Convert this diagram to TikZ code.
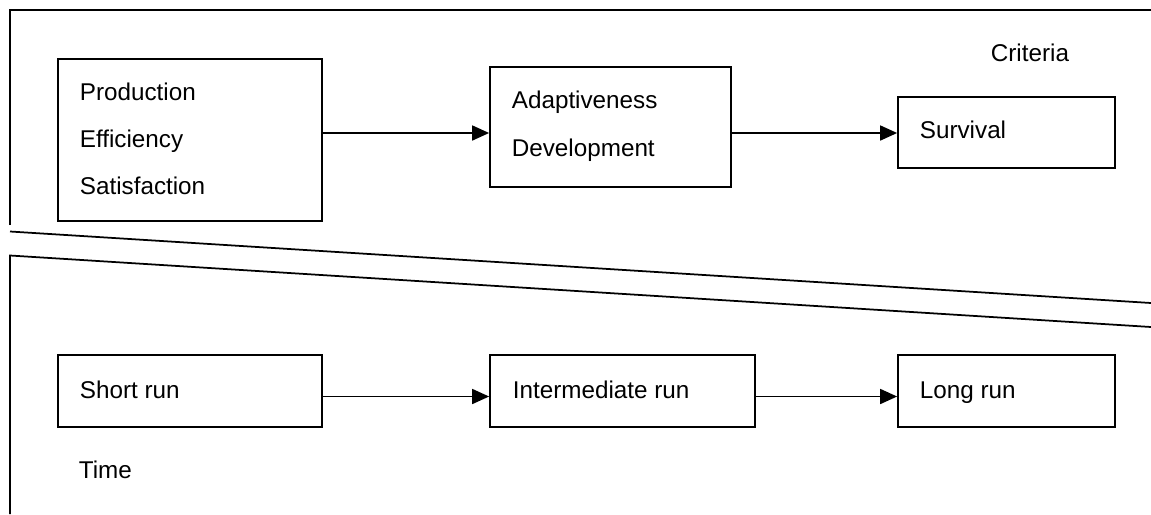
\documentclass[tikz,border=0pt]{standalone}
\usepackage{fontspec}
\setmainfont{Liberation Sans}
\usetikzlibrary{arrows.meta,fit}
\begin{document}
\begin{tikzpicture}[x=0.02cm,y=-0.02cm,
  line width=1pt,
  box/.style={draw,inner sep=0pt,fit={#1}},
  label/.style={anchor=base west,inner sep=0pt,font=\fontsize{13.8}{16}\selectfont},
  arr/.style={-{Triangle[length=0.34cm,width=0.3cm]}}]
\useasboundingbox (0,0) rectangle (1151,514);

% frames of the two bands, separated by two slanted lines
\draw (10,225) -- (10,10) -- (1151,10);
\draw (10,231.5) -- (1151,303);
\draw (1151,327) -- (10,255.5) -- (10,514);

% criteria band
\node[box={(58,59) (322,221)}] (prod) {};
\node[label] (tprod) at (79,100) {Production};
\node[label] (teff) at (79,147.5) {Efficiency};
\node[label] (tsat) at (79,194.5) {Satisfaction};

\node[box={(490,67) (731,187)}] (adapt) {};
\node[label] (tadapt) at (511,108) {Adaptiveness};
\node[label] (tdev) at (511,156) {Development};

\node[box={(898,97) (1115,168)}] (surv) {};
\node[label] (tsurv) at (919,138) {Survival};

\node[label] (crit) at (990,61) {Criteria};

\draw[arr] (prod.east |- 0,133) -- (adapt.west |- 0,133);
\draw[arr] (adapt.east |- 0,133) -- (surv.west |- 0,133);

% time band
\node[box={(58,355) (322,427)}] (short) {};
\node[label] (tshort) at (79,398) {Short run};

\node[box={(490,355) (755,427)}] (inter) {};
\node[label] (tinter) at (512,398) {Intermediate run};

\node[box={(898,355) (1115,427)}] (long) {};
\node[label] (tlong) at (919,398) {Long run};

\node[label] (time) at (78,478) {Time};

\draw[arr] (short.east |- 0,396.5) -- (inter.west |- 0,396.5);
\draw[arr] (inter.east |- 0,396.5) -- (long.west |- 0,396.5);
\end{tikzpicture}
\end{document}
